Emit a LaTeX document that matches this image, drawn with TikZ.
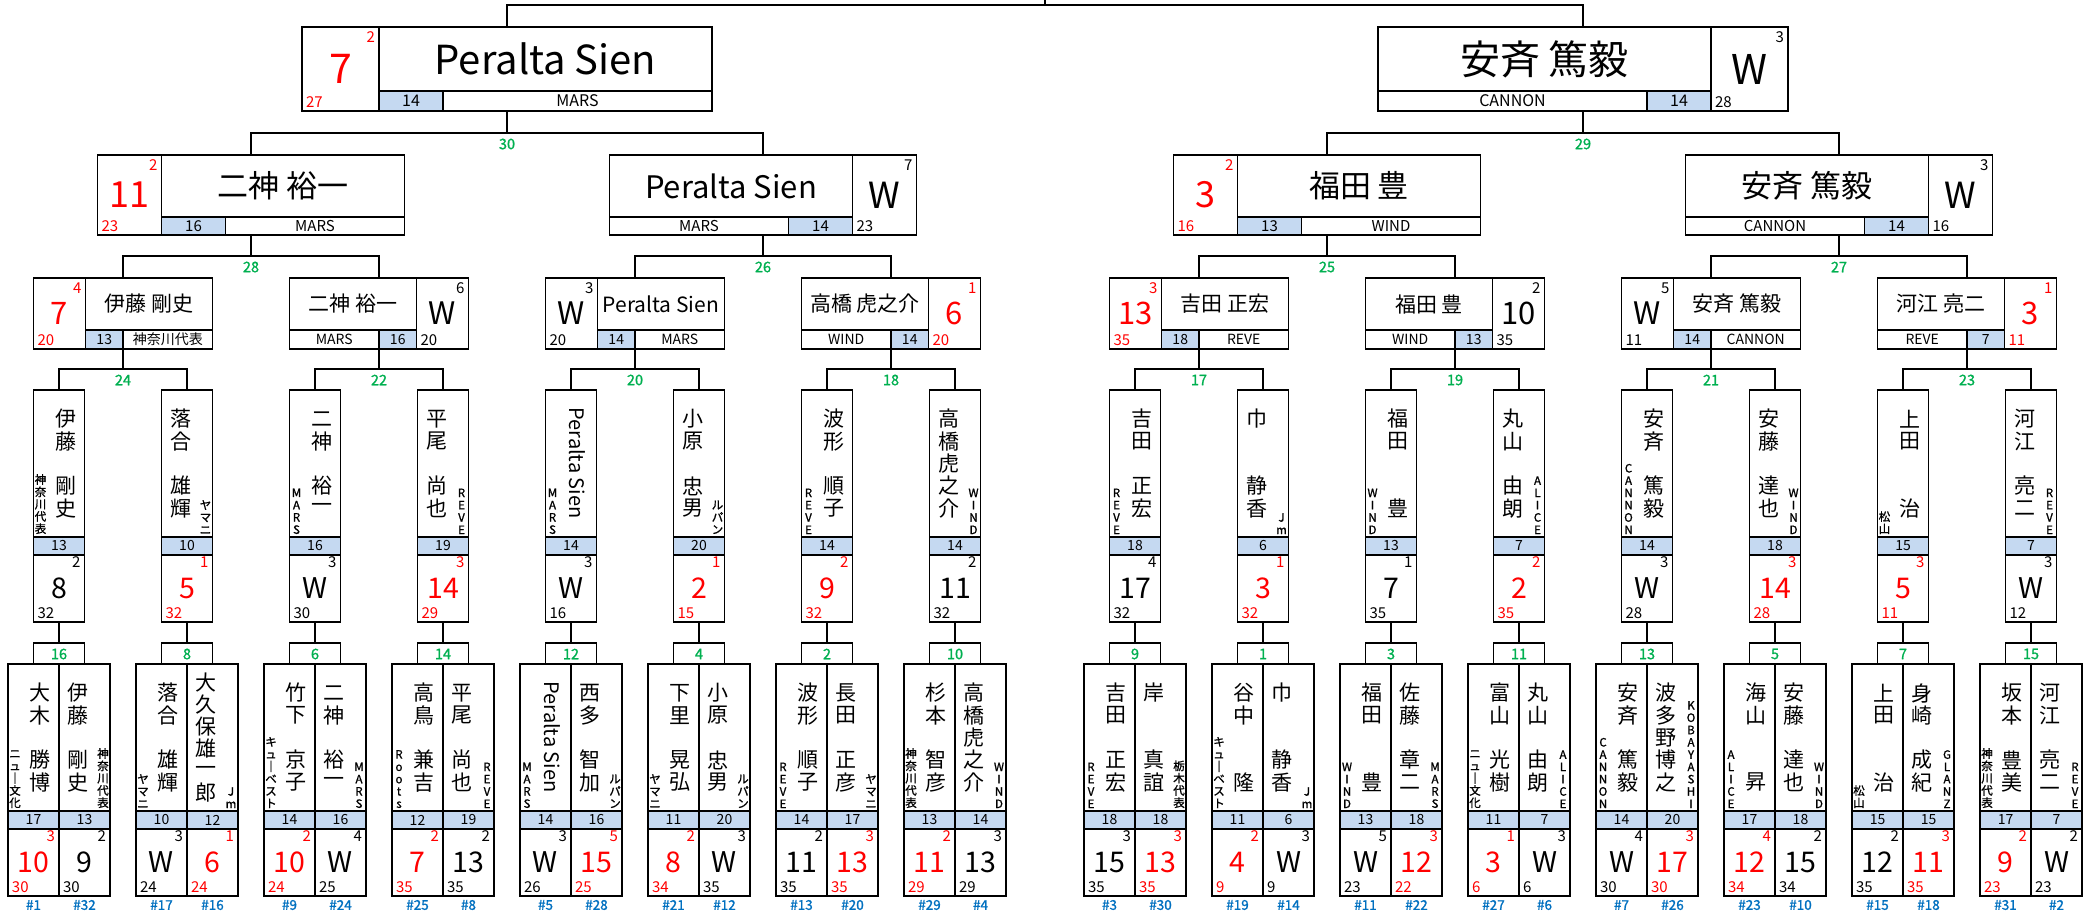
\documentclass[tikz,border=0pt]{standalone}
\usepackage{fontspec}
\setmainfont{Noto Sans CJK JP}
\newfontfamily\boldish{Noto Sans CJK JP}[FakeBold=1.2]
\usetikzlibrary{calc}
\definecolor{cRed}{RGB}{255,0,0}
\definecolor{cGreen}{RGB}{0,176,80}
\definecolor{cBlue}{RGB}{0,112,192}
\definecolor{cCell}{RGB}{197,217,241}
\newcount\nodecnt
\newcommand\fs[1]{\fontsize{#1}{#1}\selectfont}
\tikzset{
  autoname/.code={\global\advance\nodecnt by 1\relax\edef\tmpnm{tx\the\nodecnt}\pgfkeysalso{name/.expand once=\tmpnm}},
  frame/.style={draw=black,line width=1.2pt},
  conn/.style={draw=black,line width=1.2pt},
  txt/.style={autoname,inner sep=0pt,outer sep=0pt},
  lbl/.style={txt,text=cGreen,font=\boldish\fs{14.5}},
  seed/.style={txt,text=cBlue,font=\boldish\fs{13.5}},
  team/.style={txt,align=center,font=\boldish\fontsize{11.5}{12.3}\selectfont},
}
% team labels (vertical stacks)
\def\tNew{ニ\\ュ\\｜\\文\\化}
\def\tKana{神\\奈\\川\\代\\表}
\def\tYama{ヤ\\マ\\ニ}
\def\tJm{J\\m}
\def\tQ{キ\\ュ\\｜\\ベ\\ス\\ト}
\def\tMARS{M\\A\\R\\S}
\def\tRoots{R\\o\\o\\t\\s}
\def\tREVE{R\\E\\V\\E}
\def\tLupin{ル\\パ\\ン}
\def\tWIND{W\\I\\N\\D}
\def\tTochi{栃\\木\\代\\表}
\def\tALICE{A\\L\\I\\C\\E}
\def\tCANNON{C\\A\\N\\N\\O\\N}
\def\tKOBA{K\\O\\B\\A\\Y\\A\\S\\H\\I}
\def\tMatsu{松\\山}
\def\tGLANZ{G\\L\\A\\N\\Z}
% vertical box: id, centre x, top y, blue number, sup, big, bottom, colour
\newcommand\VBox[8]{%
  \xdef\curc{#2}\xdef\curtop{#3}%
  \pgfmathsetmacro\vL{#2-25.5}\pgfmathsetmacro\vR{#2+25.5}%
  \pgfmathsetmacro\vS{#3+147}\pgfmathsetmacro\vT{#3+165}\pgfmathsetmacro\vB{#3+232}%
  \fill[cCell] (\vL,\vS) rectangle (\vR,\vT);
  \draw[frame] (\vL,#3) rectangle (\vR,\vB);
  \draw[frame] (\vL,\vS) -- (\vR,\vS) (\vL,\vT) -- (\vR,\vT);
  \coordinate (#1-t) at (#2,#3);
  \coordinate (#1-b) at (#2,\vB);
  \node[txt,font=\fs{14}] at (#2,{(\vS+\vT)/2}) {#4};
  \node[txt,text=#8,font=\fs{15},anchor=east] at ({\vR-4},{\vT+7.5}) {#5};
  \node[txt,text=#8,font=\fs{28.5}] at (#2,{\vT+33.5}) {#6};
  \node[txt,text=#8,font=\fs{15},anchor=west] at ({\vL+4},{\vT+58}) {#7};
}
\newcommand\VName[6]{%
  \foreach \k/\ch in {0/#2,1/#3,2/#4,3/#5,4/#6}{%
    \node[txt,font=\fs{21}] at ({\curc+6.5*(#1)},{\curtop+29+22.3*\k}) {\ch};}%
}
\newcommand\VNameSix[7]{%
  \foreach \k/\ch in {0/#2,1/#3,2/#4,3/#5,4/#6,5/#7}{%
    \node[txt,font=\fs{21}] at ({\curc+6.5*(#1)},{\curtop+19+22*\k}) {\ch};}%
}
\newcommand\VTeam[2]{\node[team,anchor=south] at ({\curc-18.5*(#1)},{\curtop+144}) {#2};}
\newcommand\VPeralta[1]{\node[txt,rotate=-90,font=\fs{20}] at ({\curc+6.5*(#1)},{\curtop+73}) {Peralta Sien};}
\newcommand\VNum[1]{\node[seed] at (\curc,905) {\##1};}
% horizontal boxes
\newcommand\SetLevel[9]{\def\Ltop{#1}\def\Lstrip{#2}\def\Lbot{#3}\def\Lhw{#4}\def\Lsw{#5}\def\Lbw{#6}\def\Lnf{#7}\def\Lbf{#8}\def\Ltf{#9}}
\newcommand\HL[9]{%
  \pgfmathsetmacro\hL{#2-\Lhw}\pgfmathsetmacro\hR{#2+\Lhw}%
  \pgfmathsetmacro\hS{\hL+\Lsw}\pgfmathsetmacro\hB{\hS+\Lbw}%
  \pgfmathsetmacro\hM{(\Ltop+\Lbot)/2}\pgfmathsetmacro\hN{(\Ltop+\Lstrip)/2}\pgfmathsetmacro\hT{(\Lstrip+\Lbot)/2}%
  \fill[cCell] (\hS,\Lstrip) rectangle (\hB,\Lbot);
  \draw[frame] (\hL,\Ltop) rectangle (\hR,\Lbot);
  \draw[frame] (\hS,\Ltop) -- (\hS,\Lbot) (\hS,\Lstrip) -- (\hR,\Lstrip) (\hB,\Lstrip) -- (\hB,\Lbot);
  \coordinate (#1-t) at (#2,\Ltop);
  \coordinate (#1-b) at (#2,\Lbot);
  \node[txt,font=\fs{\Lnf}] at ({(\hS+\hR)/2},\hN) {#3};
  \node[txt,font=\fs{\Ltf}] at ({(\hB+\hR)/2},\hT) {#4};
  \node[txt,font=\fs{\Ltf}] at ({(\hS+\hB)/2},\hT) {#5};
  \node[txt,text=#9,font=\fs{15},anchor=east] at ({\hS-4},{\Ltop+10}) {#6};
  \node[txt,text=#9,font=\fs{\Lbf}] at ({(\hL+\hS)/2},\hM) {#7};
  \node[txt,text=#9,font=\fs{15},anchor=west] at ({\hL+4},{\Lbot-9}) {#8};
}
\newcommand\HR[9]{%
  \pgfmathsetmacro\hL{#2-\Lhw}\pgfmathsetmacro\hR{#2+\Lhw}%
  \pgfmathsetmacro\hS{\hR-\Lsw}\pgfmathsetmacro\hB{\hS-\Lbw}%
  \pgfmathsetmacro\hM{(\Ltop+\Lbot)/2}\pgfmathsetmacro\hN{(\Ltop+\Lstrip)/2}\pgfmathsetmacro\hT{(\Lstrip+\Lbot)/2}%
  \fill[cCell] (\hB,\Lstrip) rectangle (\hS,\Lbot);
  \draw[frame] (\hL,\Ltop) rectangle (\hR,\Lbot);
  \draw[frame] (\hS,\Ltop) -- (\hS,\Lbot) (\hL,\Lstrip) -- (\hS,\Lstrip) (\hB,\Lstrip) -- (\hB,\Lbot);
  \coordinate (#1-t) at (#2,\Ltop);
  \coordinate (#1-b) at (#2,\Lbot);
  \node[txt,font=\fs{\Lnf}] at ({(\hL+\hS)/2},\hN) {#3};
  \node[txt,font=\fs{\Ltf}] at ({(\hL+\hB)/2},\hT) {#4};
  \node[txt,font=\fs{\Ltf}] at ({(\hB+\hS)/2},\hT) {#5};
  \node[txt,text=#9,font=\fs{15},anchor=east] at ({\hR-4},{\Ltop+10}) {#6};
  \node[txt,text=#9,font=\fs{\Lbf}] at ({(\hS+\hR)/2},\hM) {#7};
  \node[txt,text=#9,font=\fs{15},anchor=west] at ({\hS+4},{\Lbot-9}) {#8};
}
\newcommand\Bracket[5]{%
  \coordinate (#1-m) at (#1-b |- 0,#4);
  \draw[conn] (#1-b) -- (#1-m);
  \draw[conn] (#2-t) -- (#2-t |- #1-m) -- (#3-t |- #1-m) -- (#3-t);
  \node[lbl] at ($(#1-m)+(0,11)$) {#5};
}
\begin{document}
\begin{tikzpicture}[x=1pt,y=-1pt]
\fill[white] (0,0) rectangle (2094,912);
\useasboundingbox (0,0) rectangle (2094,912);
% ---------- level 5 (first round) ----------
\VBox{p1}{33.5}{664}{17}{3}{10}{30}{cRed} \VName{1}{大}{木}{}{勝}{博} \VTeam{1}{\tNew} \VNum{1}
\VBox{p2}{84.5}{664}{13}{2}{9}{30}{black} \VName{-1}{伊}{藤}{}{剛}{史} \VTeam{-1}{\tKana} \VNum{32}
\VBox{p3}{161.5}{664}{10}{3}{W}{24}{black} \VName{1}{落}{合}{}{雄}{輝} \VTeam{1}{\tYama} \VNum{17}
\VBox{p4}{212.5}{664}{12}{1}{6}{24}{cRed} \VNameSix{-1}{大}{久}{保}{雄}{一}{郎} \VTeam{-1}{\tJm} \VNum{16}
\VBox{p5}{289.5}{664}{14}{2}{10}{24}{cRed} \VName{1}{竹}{下}{}{京}{子} \VTeam{1}{\tQ} \VNum{9}
\VBox{p6}{340.5}{664}{16}{4}{W}{25}{black} \VName{-1}{二}{神}{}{裕}{一} \VTeam{-1}{\tMARS} \VNum{24}
\VBox{p7}{417.5}{664}{12}{2}{7}{35}{cRed} \VName{1}{高}{鳥}{}{兼}{吉} \VTeam{1}{\tRoots} \VNum{25}
\VBox{p8}{468.5}{664}{19}{2}{13}{35}{black} \VName{-1}{平}{尾}{}{尚}{也} \VTeam{-1}{\tREVE} \VNum{8}
\VBox{p9}{545.5}{664}{14}{3}{W}{26}{black} \VPeralta{1} \VTeam{1}{\tMARS} \VNum{5}
\VBox{p10}{596.5}{664}{16}{5}{15}{25}{cRed} \VName{-1}{西}{多}{}{智}{加} \VTeam{-1}{\tLupin} \VNum{28}
\VBox{p11}{673.5}{664}{11}{2}{8}{34}{cRed} \VName{1}{下}{里}{}{晃}{弘} \VTeam{1}{\tYama} \VNum{21}
\VBox{p12}{724.5}{664}{20}{3}{W}{35}{black} \VName{-1}{小}{原}{}{忠}{男} \VTeam{-1}{\tLupin} \VNum{12}
\VBox{p13}{801.5}{664}{14}{2}{11}{35}{black} \VName{1}{波}{形}{}{順}{子} \VTeam{1}{\tREVE} \VNum{13}
\VBox{p14}{852.5}{664}{17}{3}{13}{35}{cRed} \VName{-1}{長}{田}{}{正}{彦} \VTeam{-1}{\tYama} \VNum{20}
\VBox{p15}{929.5}{664}{13}{2}{11}{29}{cRed} \VName{1}{杉}{本}{}{智}{彦} \VTeam{1}{\tKana} \VNum{29}
\VBox{p16}{980.5}{664}{14}{3}{13}{29}{black} \VName{-1}{高}{橋}{虎}{之}{介} \VTeam{-1}{\tWIND} \VNum{4}
\VBox{p17}{1109.5}{664}{18}{3}{15}{35}{black} \VName{1}{吉}{田}{}{正}{宏} \VTeam{1}{\tREVE} \VNum{3}
\VBox{p18}{1160.5}{664}{18}{3}{13}{35}{cRed} \VName{-1}{岸}{}{}{真}{誼} \VTeam{-1}{\tTochi} \VNum{30}
\VBox{p19}{1237.5}{664}{11}{2}{4}{9}{cRed} \VName{1}{谷}{中}{}{}{隆} \VTeam{1}{\tQ} \VNum{19}
\VBox{p20}{1288.5}{664}{6}{3}{W}{9}{black} \VName{-1}{巾}{}{}{静}{香} \VTeam{-1}{\tJm} \VNum{14}
\VBox{p21}{1365.5}{664}{13}{5}{W}{23}{black} \VName{1}{福}{田}{}{}{豊} \VTeam{1}{\tWIND} \VNum{11}
\VBox{p22}{1416.5}{664}{18}{3}{12}{22}{cRed} \VName{-1}{佐}{藤}{}{章}{二} \VTeam{-1}{\tMARS} \VNum{22}
\VBox{p23}{1493.5}{664}{11}{1}{3}{6}{cRed} \VName{1}{富}{山}{}{光}{樹} \VTeam{1}{\tNew} \VNum{27}
\VBox{p24}{1544.5}{664}{7}{3}{W}{6}{black} \VName{-1}{丸}{山}{}{由}{朗} \VTeam{-1}{\tALICE} \VNum{6}
\VBox{p25}{1621.5}{664}{14}{4}{W}{30}{black} \VName{1}{安}{斉}{}{篤}{毅} \VTeam{1}{\tCANNON} \VNum{7}
\VBox{p26}{1672.5}{664}{20}{3}{17}{30}{cRed} \VName{-1}{波}{多}{野}{博}{之} \VTeam{-1}{\tKOBA} \VNum{26}
\VBox{p27}{1749.5}{664}{17}{4}{12}{34}{cRed} \VName{1}{海}{山}{}{}{昇} \VTeam{1}{\tALICE} \VNum{23}
\VBox{p28}{1800.5}{664}{18}{2}{15}{34}{black} \VName{-1}{安}{藤}{}{達}{也} \VTeam{-1}{\tWIND} \VNum{10}
\VBox{p29}{1877.5}{664}{15}{2}{12}{35}{black} \VName{1}{上}{田}{}{}{治} \VTeam{1}{\tMatsu} \VNum{15}
\VBox{p30}{1928.5}{664}{15}{3}{11}{35}{cRed} \VName{-1}{身}{崎}{}{成}{紀} \VTeam{-1}{\tGLANZ} \VNum{18}
\VBox{p31}{2005.5}{664}{17}{2}{9}{23}{cRed} \VName{1}{坂}{本}{}{豊}{美} \VTeam{1}{\tKana} \VNum{31}
\VBox{p32}{2056.5}{664}{7}{2}{W}{23}{black} \VName{-1}{河}{江}{}{亮}{二} \VTeam{-1}{\tREVE} \VNum{2}
% ---------- level 4 ----------
\VBox{q1}{59}{390}{13}{2}{8}{32}{black} \VName{1}{伊}{藤}{}{剛}{史} \VTeam{1}{\tKana}
\VBox{q2}{187}{390}{10}{1}{5}{32}{cRed} \VName{-1}{落}{合}{}{雄}{輝} \VTeam{-1}{\tYama}
\VBox{q3}{315}{390}{16}{3}{W}{30}{black} \VName{1}{二}{神}{}{裕}{一} \VTeam{1}{\tMARS}
\VBox{q4}{443}{390}{19}{3}{14}{29}{cRed} \VName{-1}{平}{尾}{}{尚}{也} \VTeam{-1}{\tREVE}
\VBox{q5}{571}{390}{14}{3}{W}{16}{black} \VPeralta{1} \VTeam{1}{\tMARS}
\VBox{q6}{699}{390}{20}{1}{2}{15}{cRed} \VName{-1}{小}{原}{}{忠}{男} \VTeam{-1}{\tLupin}
\VBox{q7}{827}{390}{14}{2}{9}{32}{cRed} \VName{1}{波}{形}{}{順}{子} \VTeam{1}{\tREVE}
\VBox{q8}{955}{390}{14}{2}{11}{32}{black} \VName{-1}{高}{橋}{虎}{之}{介} \VTeam{-1}{\tWIND}
\VBox{q9}{1135}{390}{18}{4}{17}{32}{black} \VName{1}{吉}{田}{}{正}{宏} \VTeam{1}{\tREVE}
\VBox{q10}{1263}{390}{6}{1}{3}{32}{cRed} \VName{-1}{巾}{}{}{静}{香} \VTeam{-1}{\tJm}
\VBox{q11}{1391}{390}{13}{1}{7}{35}{black} \VName{1}{福}{田}{}{}{豊} \VTeam{1}{\tWIND}
\VBox{q12}{1519}{390}{7}{2}{2}{35}{cRed} \VName{-1}{丸}{山}{}{由}{朗} \VTeam{-1}{\tALICE}
\VBox{q13}{1647}{390}{14}{3}{W}{28}{black} \VName{1}{安}{斉}{}{篤}{毅} \VTeam{1}{\tCANNON}
\VBox{q14}{1775}{390}{18}{3}{14}{28}{cRed} \VName{-1}{安}{藤}{}{達}{也} \VTeam{-1}{\tWIND}
\VBox{q15}{1903}{390}{15}{3}{5}{11}{cRed} \VName{1}{上}{田}{}{}{治} \VTeam{1}{\tMatsu}
\VBox{q16}{2031}{390}{7}{3}{W}{12}{black} \VName{-1}{河}{江}{}{亮}{二} \VTeam{-1}{\tREVE}
% ---------- level 3 ----------
\SetLevel{278}{330}{349}{89.5}{52}{37.5}{21}{31}{14}
\HL{r1}{123}{伊藤 剛史}{神奈川代表}{13}{4}{7}{20}{cRed}
\HR{r2}{379}{二神 裕一}{MARS}{16}{6}{W}{20}{black}
\HL{r3}{635}{Peralta Sien}{MARS}{14}{3}{W}{20}{black}
\HR{r4}{891}{高橋 虎之介}{WIND}{14}{1}{6}{20}{cRed}
\HL{r5}{1199}{吉田 正宏}{REVE}{18}{3}{13}{35}{cRed}
\HR{r6}{1455}{福田 豊}{WIND}{13}{2}{10}{35}{black}
\HL{r7}{1711}{安斉 篤毅}{CANNON}{14}{5}{W}{11}{black}
\HR{r8}{1967}{河江 亮二}{REVE}{7}{1}{3}{11}{cRed}
% ---------- level 2 ----------
\SetLevel{155}{217}{235}{153.5}{64}{64}{31}{36}{15}
\HL{s1}{251}{二神 裕一}{MARS}{16}{2}{11}{23}{cRed}
\HR{s2}{763}{Peralta Sien}{MARS}{14}{7}{W}{23}{black}
\HL{s3}{1327}{福田 豊}{WIND}{13}{2}{3}{16}{cRed}
\HR{s4}{1839}{安斉 篤毅}{CANNON}{14}{3}{W}{16}{black}
% ---------- level 1 ----------
\SetLevel{27}{91}{111}{205}{77}{64}{40}{41}{16}
\HL{t1}{507}{Peralta Sien}{MARS}{14}{2}{7}{27}{cRed}
\HR{t2}{1583}{安斉 篤毅}{CANNON}{14}{3}{W}{28}{black}
% ---------- connectors ----------
\Bracket{q1}{p1}{p2}{643}{16}
\Bracket{q2}{p3}{p4}{643}{8}
\Bracket{q3}{p5}{p6}{643}{6}
\Bracket{q4}{p7}{p8}{643}{14}
\Bracket{q5}{p9}{p10}{643}{12}
\Bracket{q6}{p11}{p12}{643}{4}
\Bracket{q7}{p13}{p14}{643}{2}
\Bracket{q8}{p15}{p16}{643}{10}
\Bracket{q9}{p17}{p18}{643}{9}
\Bracket{q10}{p19}{p20}{643}{1}
\Bracket{q11}{p21}{p22}{643}{3}
\Bracket{q12}{p23}{p24}{643}{11}
\Bracket{q13}{p25}{p26}{643}{13}
\Bracket{q14}{p27}{p28}{643}{5}
\Bracket{q15}{p29}{p30}{643}{7}
\Bracket{q16}{p31}{p32}{643}{15}
\Bracket{r1}{q1}{q2}{369}{24}
\Bracket{r2}{q3}{q4}{369}{22}
\Bracket{r3}{q5}{q6}{369}{20}
\Bracket{r4}{q7}{q8}{369}{18}
\Bracket{r5}{q9}{q10}{369}{17}
\Bracket{r6}{q11}{q12}{369}{19}
\Bracket{r7}{q13}{q14}{369}{21}
\Bracket{r8}{q15}{q16}{369}{23}
\Bracket{s1}{r1}{r2}{256}{28}
\Bracket{s2}{r3}{r4}{256}{26}
\Bracket{s3}{r5}{r6}{256}{25}
\Bracket{s4}{r7}{r8}{256}{27}
\Bracket{t1}{s1}{s2}{133}{30}
\Bracket{t2}{s3}{s4}{133}{29}
\coordinate (top) at (1045,0);
\coordinate (topm) at (1045,5);
\draw[conn] (t1-t) -- (t1-t |- topm) -- (t2-t |- topm) -- (t2-t);
\draw[conn] (topm) -- (top);
\end{tikzpicture}
\end{document}
